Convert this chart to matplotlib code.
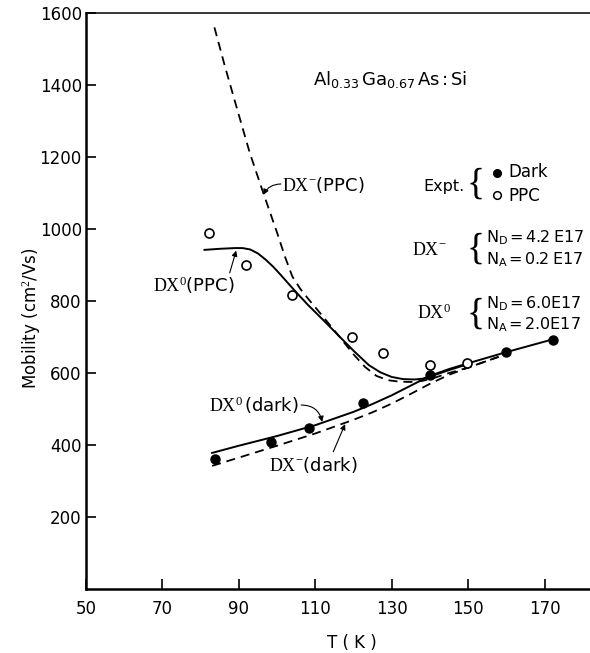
import numpy as np
import matplotlib
matplotlib.use("Agg")
import matplotlib.pyplot as plt

plt.rcParams['font.family'] = ['DejaVu Sans']
plt.rcParams['mathtext.fontset'] = 'custom'
plt.rcParams['mathtext.rm'] = 'Liberation Serif'
plt.rcParams['mathtext.sf'] = 'DejaVu Sans'
plt.rcParams['mathtext.it'] = 'Liberation Serif:italic'

t_dark = [83.7, 98.3, 108.3, 122.6, 140.1, 159.9, 172.1]
mu_dark = [361, 408, 446, 516, 595, 658, 693]
t_ppc = [82.3, 91.8, 103.8, 119.5, 127.8, 140.0, 149.6]
mu_ppc = [988, 900, 816, 701, 656, 622, 627]

# theory curves
t_dx0_dark = [83, 90, 100, 110, 120, 125, 130, 135, 140, 145, 150, 160, 172]
mu_dx0_dark = [378, 398, 425, 455, 492, 514, 538, 565, 592, 611, 627, 658, 693]
t_dxm_dark = [83, 90, 100, 110, 120, 125, 130, 135, 140, 145, 150, 158]
mu_dxm_dark = [342, 365, 398, 432, 470, 491, 515, 542, 570, 595, 615, 645]
t_dx0_ppc = [81, 85, 89, 91, 93, 95, 97, 99, 101, 104, 108, 112, 116, 120, 124,
             127, 130, 133, 136, 138, 140, 145, 150]
mu_dx0_ppc = [942, 945, 947, 947, 943, 932, 915, 895, 872, 836, 790, 748, 705, 662, 622,
              602, 589, 583, 582, 584, 590, 608, 625]
t_dxm_ppc = [83.6, 86.4, 89.9, 92.9, 96.4, 100, 102, 104, 106, 108, 112, 116, 120, 123,
             126, 129, 132, 135, 138, 141, 145, 150, 158]
mu_dxm_ppc = [1560, 1450, 1320, 1210, 1100, 990, 925, 868, 835, 808, 757, 705, 652, 617,
              592, 580, 576, 575, 578, 586, 600, 615, 645]

xticks = [50, 70, 90, 110, 130, 150, 170]
yticks = [200, 400, 600, 800, 1000, 1200, 1400, 1600]

fig = plt.figure(figsize=(5.9, 6.53), dpi=100)
ax = fig.add_axes([0.1458, 0.098, 0.8542, 0.8821])

# curves
ax.plot(t_dx0_dark, mu_dx0_dark, 'k-', lw=1.4)
ax.plot(t_dx0_ppc, mu_dx0_ppc, 'k-', lw=1.4)
ax.plot(t_dxm_dark, mu_dxm_dark, 'k--', lw=1.3, dashes=(5, 3.3))
ax.plot(t_dxm_ppc, mu_dxm_ppc, 'k--', lw=1.3, dashes=(5, 3.3))
# points
ax.plot(t_dark, mu_dark, 'o', color='k', ms=6.5, zorder=5)
ax.plot(t_ppc, mu_ppc, 'o', mfc='white', mec='k', mew=1.2, ms=6.5, zorder=5)

ax.set_xlim(50, 181.9)
ax.set_ylim(0, 1600)
ax.set_xticks(xticks)
ax.set_yticks(yticks)
ax.tick_params(direction='in', length=7, width=1.2, labelsize=12)
ax.tick_params(axis='x', pad=8)
ax.tick_params(axis='y', pad=3)
for s in ['left', 'bottom']:
    ax.spines[s].set_linewidth(1.8)
ax.spines['top'].set_linewidth(1.1)
ax.spines['right'].set_visible(False)

fig.text(31/590, 1 - 318/653, 'Mobility (cm$^2$/Vs)', rotation=90,
         ha='center', va='center', fontsize=12)
fig.text(352/590, 1 - 643/653, 'T ( K )', ha='center', va='center', fontsize=12)

# labels on the curves
arr = dict(arrowstyle='-|>', color='k', lw=0.8, mutation_scale=8, shrinkA=0, shrinkB=0)
ax.text(101.3, 1122, r'$\mathrm{DX}^{-}\mathsf{(PPC)}$', fontsize=13, va='center')
ax.annotate('', xy=(96.4, 1095), xytext=(101.0, 1125),
            arrowprops=dict(arr, connectionstyle='arc3,rad=0.3'))
ax.text(67.5, 844, r'$\mathrm{DX}^{0}\mathsf{(PPC)}$', fontsize=13, va='center')
ax.annotate('', xy=(89.3, 940), xytext=(87.6, 878), arrowprops=arr)
ax.text(82.2, 511, r'$\mathrm{DX}^{0}\mathsf{\,(dark)}$', fontsize=13, va='center')
ax.annotate('', xy=(111.8, 464), xytext=(106.3, 511),
            arrowprops=dict(arr, connectionstyle='arc3,rad=-0.4'))
ax.text(97.9, 344, r'$\mathrm{DX}^{-}\mathsf{(dark)}$', fontsize=13, va='center')
ax.annotate('', xy=(117.8, 458), xytext=(114.7, 381), arrowprops=arr)

# composition
ax.text(109.4, 1414, r'$\mathsf{Al_{0.33}\,Ga_{0.67}\,As:Si}$', fontsize=13, va='center')

# legend-like block
ax.text(138.2, 1117, 'Expt.', fontsize=11.5, va='center')
ax.text(152.0, 1125, '{', family='Liberation Serif', fontsize=27, va='center', ha='center')
ax.plot([157.6], [1156], 'o', color='k', ms=5.5)
ax.plot([157.6], [1094], 'o', mfc='white', mec='k', mew=1.1, ms=5.5)
ax.text(160.5, 1158, 'Dark', fontsize=12, va='center')
ax.text(160.5, 1092, 'PPC', fontsize=12, va='center')

ax.text(135.3, 942, r'$\mathrm{DX}^{-}$', fontsize=13, va='center')
ax.text(152.0, 944, '{', family='Liberation Serif', fontsize=27, va='center', ha='center')
ax.text(154.7, 975, r'$\mathsf{N_D = 4.2\ E17}$', fontsize=11.5, va='center')
ax.text(154.7, 914, r'$\mathsf{N_A = 0.2\ E17}$', fontsize=11.5, va='center')

ax.text(136.6, 767, r'$\mathrm{DX}^{0}$', fontsize=13, va='center')
ax.text(152.0, 764, '{', family='Liberation Serif', fontsize=27, va='center', ha='center')
ax.text(154.7, 794, r'$\mathsf{N_D = 6.0E17}$', fontsize=11.5, va='center')
ax.text(154.7, 733, r'$\mathsf{N_A = 2.0E17}$', fontsize=11.5, va='center')

fig.savefig('out.png', dpi=100)
